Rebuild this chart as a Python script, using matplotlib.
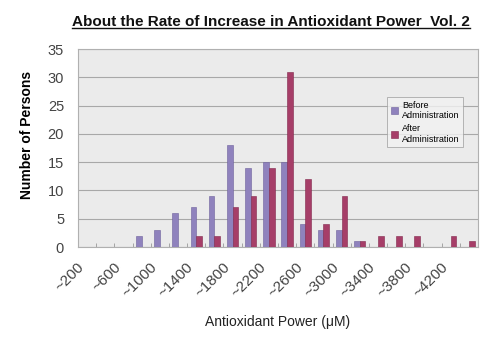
import numpy as np
import matplotlib
matplotlib.use("Agg")
import matplotlib.pyplot as plt
from matplotlib.lines import Line2D

plt.rcParams["font.family"] = ["Liberation Sans", "DejaVu Sans"]

# bins of 200 uM, labelled by upper bound
bins = ["~%d" % v for v in range(200, 4600, 200)]
before = [0, 0, 0, 2, 3, 6, 7, 9, 18, 14, 15, 15, 4, 3, 3, 1, 0, 0, 0, 0, 0, 0]
after = [0, 0, 0, 0, 0, 0, 2, 2, 7, 9, 14, 31, 12, 4, 9, 1, 2, 2, 2, 0, 2, 1]

title = "About the Rate of Increase in Antioxidant Power  Vol. 2"
before_color = "#8f82bd"
after_color = "#a63e68"

fig = plt.figure(figsize=(5.0, 3.38), dpi=100)
ax = fig.add_axes([0.156, 0.269, 0.80, 0.586])
ax.set_facecolor("#ebebeb")

x = np.arange(len(bins))
w = 0.31
ax.bar(x - w / 2, before, w, color=before_color, edgecolor="#6e609c", lw=0.4,
       label="Before\nAdministration", zorder=3)
ax.bar(x + w / 2, after, w, color=after_color, edgecolor="#82284c", lw=0.4,
       label="After\nAdministration", zorder=3)

ax.set_xlim(-0.5, len(bins) - 0.5)
ax.set_ylim(0, 35)
ax.set_yticks(range(0, 36, 5))
ax.yaxis.grid(True, color="#a8a8a8", lw=0.8, zorder=0)
ax.tick_params(axis="y", length=0, pad=10, labelsize=10.5, labelcolor="#444444")

ax.set_xticks(x[::2])
ax.set_xticklabels(bins[::2], rotation=45, ha="right", fontsize=11, color="#444444")
ax.set_xticks(np.arange(-0.5, len(bins), 1), minor=True)
ax.tick_params(axis="x", which="major", length=0, pad=9)
ax.tick_params(axis="x", which="minor", length=3, direction="in", color="#999999")

for s in ax.spines.values():
    s.set_color("#b0b0b0")
    s.set_linewidth(0.8)

ax.set_ylabel("Number of Persons", fontsize=10, fontweight="bold", labelpad=10)
ax.yaxis.set_label_coords(-0.11, 0.565)
ax.set_xlabel("Antioxidant Power (\u03bcM)", fontsize=10, color="#222222", labelpad=11)

leg = ax.legend(loc="upper left", bbox_to_anchor=(0.762, 0.78), fontsize=6.5,
                frameon=True, fancybox=False, handlelength=0.8, handleheight=0.8,
                handletextpad=0.4, borderpad=0.4, labelspacing=0.45)
leg.get_frame().set_edgecolor("#999999")
leg.get_frame().set_linewidth(0.6)
leg.get_frame().set_facecolor("#f2f2f2")

t = fig.text(0.542, 0.935, title, ha="center", va="center", fontsize=11,
             fontweight="bold", color="#111111")

# underline under the title
fig.canvas.draw()
bb = t.get_window_extent().transformed(fig.transFigure.inverted())
fig.add_artist(Line2D([bb.x0, bb.x1], [bb.y0 + 0.002, bb.y0 + 0.002],
                      transform=fig.transFigure, color="#111111", lw=1.0))

fig.savefig("out.png", dpi=100)
